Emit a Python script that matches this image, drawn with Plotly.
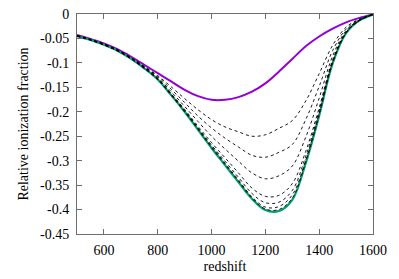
import plotly.graph_objects as go

redshift = [500, 550, 600, 650, 700, 750, 800, 850, 900, 950, 1000, 1050,
            1100, 1150, 1200, 1250, 1300, 1350, 1400, 1450, 1500, 1550, 1600]

upper_curve = [-0.043, -0.051, -0.060, -0.072, -0.087, -0.104, -0.121, -0.138,
               -0.155, -0.168, -0.1755, -0.1755, -0.170, -0.159, -0.142, -0.118,
               -0.092, -0.066, -0.046, -0.030, -0.017, -0.008, -0.001]

lower_curve = [-0.045, -0.053, -0.063, -0.075, -0.091, -0.111, -0.134, -0.166,
               -0.200, -0.237, -0.274, -0.309, -0.344, -0.378, -0.401, -0.403,
               -0.380, -0.305, -0.208, -0.101, -0.039, -0.013, -0.001]

dashed_1 = [-0.044, -0.052, -0.061, -0.073, -0.089, -0.107, -0.126, -0.149,
            -0.173, -0.196, -0.216, -0.231, -0.241, -0.250, -0.247, -0.234,
            -0.218, -0.178, -0.122, -0.064, -0.027, -0.010, -0.001]
dashed_2 = [-0.044, -0.052, -0.062, -0.073, -0.089, -0.108, -0.128, -0.154,
            -0.181, -0.209, -0.233, -0.254, -0.272, -0.289, -0.293, -0.283,
            -0.267, -0.216, -0.148, -0.075, -0.031, -0.011, -0.001]
dashed_3 = [-0.044, -0.052, -0.062, -0.074, -0.090, -0.109, -0.130, -0.159,
            -0.189, -0.220, -0.250, -0.276, -0.301, -0.325, -0.337, -0.331,
            -0.311, -0.252, -0.172, -0.086, -0.034, -0.012, -0.001]
dashed_4 = [-0.045, -0.053, -0.063, -0.075, -0.091, -0.110, -0.132, -0.163,
            -0.195, -0.230, -0.263, -0.294, -0.325, -0.356, -0.373, -0.371,
            -0.347, -0.281, -0.192, -0.094, -0.037, -0.013, -0.001]
dashed_5 = [-0.045, -0.053, -0.063, -0.075, -0.091, -0.111, -0.133, -0.164,
            -0.197, -0.233, -0.268, -0.301, -0.334, -0.367, -0.386, -0.385,
            -0.361, -0.291, -0.198, -0.097, -0.038, -0.013, -0.001]
dashed_6 = [-0.045, -0.053, -0.063, -0.075, -0.091, -0.111, -0.134, -0.165,
            -0.199, -0.235, -0.271, -0.305, -0.339, -0.374, -0.395, -0.394,
            -0.370, -0.299, -0.204, -0.099, -0.038, -0.013, -0.001]
dashed_7 = [-0.045, -0.053, -0.063, -0.075, -0.091, -0.111, -0.134, -0.166,
            -0.200, -0.236, -0.273, -0.308, -0.342, -0.377, -0.399, -0.400,
            -0.377, -0.303, -0.206, -0.100, -0.039, -0.013, -0.001]

x_ticks = [500, 600, 800, 1000, 1200, 1400, 1600]
x_tick_labels = ["", "600", "800", "1000", "1200", "1400", "1600"]
y_ticks = [0, -0.05, -0.1, -0.15, -0.2, -0.25, -0.3, -0.35, -0.4, -0.45]
y_tick_labels = ["0", "-0.05", "-0.1", "-0.15", "-0.2", "-0.25", "-0.3",
                 "-0.35", "-0.4", "-0.45"]

SERIF = "Times New Roman, Liberation Serif, serif"

fig = go.Figure()

fig.add_trace(go.Scatter(x=redshift, y=upper_curve, mode="lines",
                         line=dict(color="#9400D3", width=2, shape="spline"),
                         showlegend=False))
fig.add_trace(go.Scatter(x=redshift, y=lower_curve, mode="lines",
                         line=dict(color="#009E73", width=2.2, shape="spline"),
                         showlegend=False))
for d in [dashed_1, dashed_2, dashed_3, dashed_4, dashed_5, dashed_6, dashed_7]:
    fig.add_trace(go.Scatter(x=redshift, y=d, mode="lines",
                             line=dict(color="#000000", width=0.9, dash="3px,3px",
                                       shape="spline"),
                             showlegend=False))

axis_common = dict(showgrid=False, zeroline=False, showline=True,
                   linecolor="#6e6e6e", linewidth=1, mirror="ticks",
                   ticks="inside", ticklen=5, tickcolor="#6e6e6e", tickwidth=1,
                   automargin=False,
                   tickfont=dict(family=SERIF, size=14, color="#000"))

fig.update_xaxes(range=[500, 1600], tickvals=x_ticks, ticktext=x_tick_labels,
                 title=dict(text="redshift", standoff=4,
                            font=dict(family=SERIF, size=14, color="#000")),
                 ticklabelstandoff=3,
                 **axis_common)
fig.update_yaxes(range=[-0.45, 0], tickvals=y_ticks, ticktext=y_tick_labels,
                 title=dict(text="Relative ionization fraction", standoff=8,
                            font=dict(family=SERIF, size=14, color="#000")),
                 ticklabelstandoff=4,
                 **axis_common)

fig.update_layout(width=399, height=279,
                  font=dict(family=SERIF, size=14, color="#000"),
                  margin=dict(l=77, r=26, t=14, b=45),
                  paper_bgcolor="white", plot_bgcolor="white")

fig.write_html("out.html", config={"displayModeBar": False},
               post_script="document.body.style.margin='0';document.body.style.padding='0';")
